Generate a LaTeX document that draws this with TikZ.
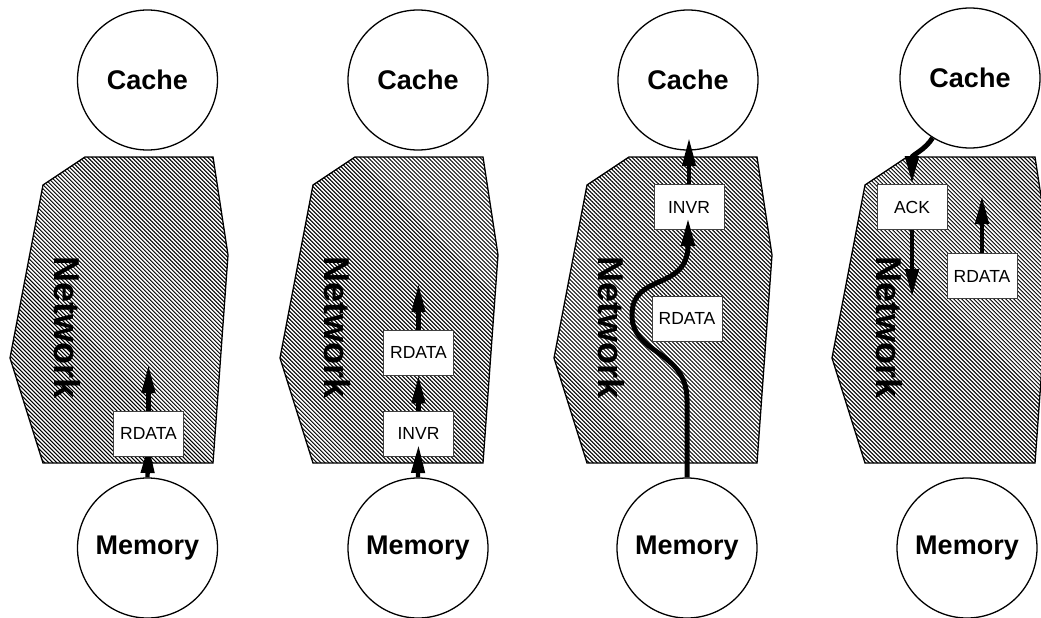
\documentclass[tikz,border=0pt]{standalone}
\usepackage{fontspec}
\setmainfont{Liberation Sans}
\usetikzlibrary{arrows.meta,patterns.meta}
\tikzset{
  endpt/.style={circle,draw=black,line width=1.3pt,fill=white,minimum size=140pt,inner sep=0pt,font=\bfseries\fontsize{27}{27}\selectfont},
  netshape/.style={draw=black,line width=1.3pt,preaction={fill=white},pattern={Lines[angle=-45,distance=2.83pt,line width=1pt]}},
  nettext/.style={rotate=-90,inner sep=0pt,font=\bfseries\fontsize{36}{36}\selectfont},
  msgbox/.style={draw=black!75,fill=white,line width=0.9pt,minimum width=70pt,minimum height=45pt,inner sep=0pt,font=\fontsize{17.5}{17.5}\selectfont},
  arr/.style={line width=4.3pt,-{Triangle[length=28pt,width=13pt]}},
  curvearr/.style={line width=5pt,-{Triangle[length=28pt,width=13pt]}}
}
\begin{document}
\begin{tikzpicture}[x=1pt,y=-1pt]
\useasboundingbox (0,0) rectangle (1041,618);
\foreach \k/\off in {0/0,1/270,2/544,3/822}{
  \begin{scope}[xshift=\off pt]
    \draw[netshape] (85,157) -- (213,157) -- (228,255) -- (213,463) -- (43,463) -- (10,358) -- (43,185) -- cycle;
    \node[nettext] (net\k) at (67,328) {Network};
  \end{scope}
}
\node[endpt] (cache0) at (147.5,80) {Cache};
\node[endpt] (mem0) at (147.5,548) {Memory};
\node[endpt] (cache1) at (418,80) {Cache};
\node[endpt] (mem1) at (418,548) {Memory};
\node[endpt] (cache2) at (688,80) {Cache};
\node[endpt] (mem2) at (687,548) {Memory};
\node[endpt] (cache3) at (970,78) {Cache};
\node[endpt] (mem3) at (967,548) {Memory};
% Panel 1
\coordinate (p1in) at (148.5,445);
\draw[arr] (mem0.north) -- (p1in);
\node[msgbox] (rd0) at (148.5,433.5) {RDATA};
\coordinate (p1out) at (148.5,365);
\draw[arr] (rd0.north) -- (p1out);
% Panel 2
\node[msgbox] (inv1) at (418.5,433.5) {INVR};
\node[msgbox] (rd1) at (418.5,352.5) {RDATA};
\coordinate (p2in) at (418.5,445);
\draw[arr] (mem1.north) -- (p2in);
\draw[arr] (inv1.north) -- (rd1.south);
\coordinate (p2out) at (418.5,284);
\draw[arr] (rd1.north) -- (p2out);
% Panel 3
\node[msgbox] (inv2) at (689,207) {INVR};
\node[msgbox] (rd2) at (687,318.5) {RDATA};
\coordinate (p3tip) at (688,218);
\draw[curvearr] (mem2.north) -- (687,400) .. controls (687,350) and (632,355) .. (632,315) .. controls (632,272) and (688,292) .. (p3tip);
\coordinate (p3out) at (689,138);
\draw[arr] (inv2.north) -- (p3out);
% Panel 4
\node[msgbox] (ack3) at (912,207) {ACK};
\node[msgbox] (rd3) at (982,276) {RDATA};
\draw[curvearr] (cache3.-122) .. controls (925,150) and (912,155) .. (ack3.north);
\coordinate (p4down) at (912,297);
\draw[arr] (ack3.south) -- (p4down);
\coordinate (p4up) at (982,196);
\draw[arr] (rd3.north) -- (p4up);
\end{tikzpicture}
\end{document}
